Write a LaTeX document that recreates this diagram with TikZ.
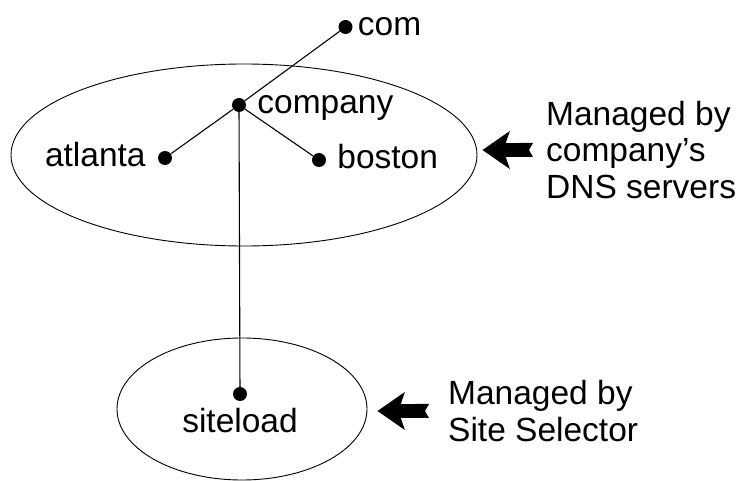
\documentclass[tikz,border=0pt]{standalone}
\usepackage{fontspec}
\setmainfont{Liberation Sans}
\usetikzlibrary{positioning,shapes.geometric,arrows.meta}

\tikzset{
  dot/.style={circle, fill=black, inner sep=0pt, minimum size=14pt},
  lbl/.style={inner sep=0pt, font=\fontsize{33.5}{36.5}\selectfont},
  zone/.style={ellipse, draw, line width=0.9pt, inner sep=0pt},
  link/.style={line width=1.1pt},
  bigarrow/.style={line width=14pt, {Triangle Cap[reversed,length=4pt]}-{Stealth[length=27pt,width=37pt,inset=6pt]}}
}

\begin{document}
\begin{tikzpicture}[x=1pt, y=-1pt]
  \fontsize{33.5}{36.5}\selectfont
  \useasboundingbox (0,0) rectangle (740,481);
  % the two zones
  \node (cloudco) [zone, minimum width=466pt, minimum height=182pt] at (244,155) {};
  \node (cloudsite) [zone, minimum width=250pt, minimum height=142pt] at (242,409) {};
  % tree
  \node (com) [dot] at (345.5,27) {};
  \node (company) [dot] at (239,105) {};
  \node (atlanta) [dot] at (165,158) {};
  \node (boston) [dot] at (319,160) {};
  \node (siteload) [dot] at (240,394) {};
  \node (comlbl) [lbl, right=5pt of com, anchor=mid west] {com};
  \node (companylbl) [lbl, right=11pt of company, anchor=mid west] {company};
  \node (bostonlbl) [lbl, right=11pt of boston, anchor=mid west] {boston};
  \node (atlantalbl) [lbl, left=12pt of atlanta, anchor=mid east] {atlanta};
  \node (siteloadlbl) [lbl, below=7pt of siteload] {siteload};
  \draw[link] (com) -- (company);
  \draw[link] (company) -- (atlanta);
  \draw[link] (company) -- (boston);
  \draw[link] (company) -- (siteload);
  % who manages what
  \node (bydns) [lbl, align=left, anchor=west] at (546,150) {Managed by\\company’s\\DNS servers};
  \node (bysel) [lbl, align=left, anchor=west] at (448,411) {Managed by\\Site Selector};
  \coordinate (cotip) at ([xshift=5pt]cloudco.east);
  \coordinate (sitetip) at ([xshift=10pt]cloudsite.east);
  \draw[bigarrow] ([xshift=-13pt]bydns.west) -- (cotip |- bydns.west);
  \draw[bigarrow] ([xshift=-19pt]bysel.west) -- (sitetip |- bysel.west);
\end{tikzpicture}
\end{document}
